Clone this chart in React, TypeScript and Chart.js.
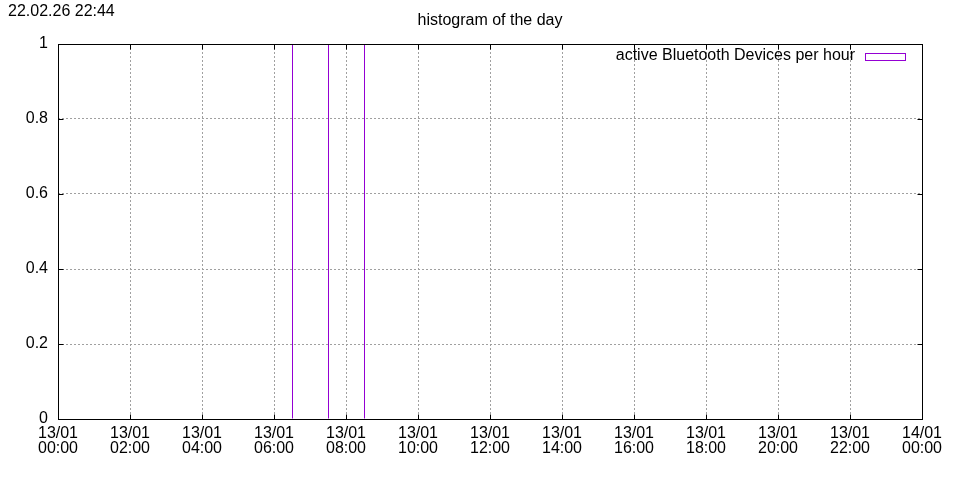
import React, { useEffect, useRef } from "react";
import { Chart, registerables } from "chart.js";

Chart.register(...registerables);

const timestamp = "22.02.26 22:44";
const chartTitle = "histogram of the day";
const seriesLabel = "active Bluetooth Devices per hour";
const hours = [0, 1, 2, 3, 4, 5, 6, 7, 8, 9, 10, 11, 12, 13, 14, 15, 16, 17, 18, 19, 20, 21, 22, 23];
const counts = [0, 0, 0, 0, 0, 0, 1, 1, 1, 0, 0, 0, 0, 0, 0, 0, 0, 0, 0, 0, 0, 0, 0, 0];
const tickDates = ["13/01", "13/01", "13/01", "13/01", "13/01", "13/01", "13/01", "13/01", "13/01", "13/01", "13/01", "13/01", "14/01"];
const tickTimes = ["00:00", "02:00", "04:00", "06:00", "08:00", "10:00", "12:00", "14:00", "16:00", "18:00", "20:00", "22:00", "00:00"];
const yTickLabels = ["0", "0.2", "0.4", "0.6", "0.8", "1"];

const FONT = "16px 'Liberation Sans', Arial, sans-serif";
const PURPLE = "#9400d3";

const framePlugin = {
  id: "gnuplotFrame",
  beforeDatasetsDraw(chart: any) {
    // align 1px bars to the pixel grid for crisp lines
    chart.ctx.save();
    chart.ctx.translate(0.5, 0);
  },
  afterDatasetsDraw(chart: any) {
    chart.ctx.restore();
    const ctx = chart.ctx as CanvasRenderingContext2D;
    const { left, right, top, bottom } = chart.chartArea;
    const L = Math.round(left) + 0.5;
    const R = Math.round(right) + 0.5;
    const T = Math.round(top) + 0.5;
    const B = Math.round(bottom) + 0.5;
    ctx.save();
    ctx.strokeStyle = "#000";
    ctx.lineWidth = 1;
    ctx.beginPath();
    const xs = chart.scales.x;
    const ys = chart.scales.y;
    const tl = 5;
    xs.ticks.forEach((t: any) => {
      const px = Math.round(xs.getPixelForValue(t.value)) + 0.5;
      ctx.moveTo(px, B);
      ctx.lineTo(px, B - tl);
      ctx.moveTo(px, T);
      ctx.lineTo(px, T + tl);
    });
    ys.ticks.forEach((t: any) => {
      const py = Math.round(ys.getPixelForValue(t.value)) + 0.5;
      ctx.moveTo(L, py);
      ctx.lineTo(L + tl, py);
      ctx.moveTo(R, py);
      ctx.lineTo(R - tl, py);
    });
    ctx.stroke();
    ctx.strokeRect(L, T, R - L, B - T);

    // legend
    ctx.font = FONT;
    ctx.fillStyle = "#000";
    ctx.textAlign = "right";
    ctx.textBaseline = "middle";
    ctx.fillText(chart.data.datasets[0].label, 855, 56);
    ctx.strokeStyle = PURPLE;
    ctx.strokeRect(865.5, 53.5, 40, 7);

    // texts
    ctx.textAlign = "left";
    ctx.fillText(timestamp, 8, 12);
    ctx.textAlign = "center";
    ctx.fillText(chartTitle, 490, 21);
    ctx.restore();
  },
};

export default function App() {
  const ref = useRef<HTMLCanvasElement | null>(null);
  useEffect(() => {
    if (!ref.current) return;
    const chart = new Chart(ref.current, {
      type: "bar",
      data: {
        datasets: [
          {
            label: seriesLabel,
            data: hours.map((h, i) => ({ x: h + 0.5, y: counts[i] })),
            backgroundColor: PURPLE,
            borderWidth: 0,
            barThickness: 1,
            inflateAmount: 0,
          } as any,
        ],
      },
      options: {
        animation: false,
        responsive: false,
        maintainAspectRatio: false,
        layout: { padding: { top: 44, right: 38, left: 0, bottom: 0 } },
        plugins: { legend: { display: false }, title: { display: false }, tooltip: { enabled: false } },
        scales: {
          x: {
            type: "linear",
            min: 0,
            max: 24,
            offset: false,
            afterFit(scale: any) {
              scale.height = 61;
            },
            afterBuildTicks(scale: any) {
              scale.ticks = tickTimes.map((_, i) => ({ value: i * 2 }));
            },
            grid: { color: "#a0a0a0", lineWidth: 1, drawTicks: false, offset: false },
            border: { display: false, dash: [2, 2] },
            ticks: {
              padding: 7,
              color: "#000",
              maxRotation: 0,
              autoSkip: false,
              font: { family: "'Liberation Sans', Arial, sans-serif", size: 16, lineHeight: 0.95 },
              callback: (_v: any, i: number) => [tickDates[i], tickTimes[i]],
            },
          },
          y: {
            min: 0,
            max: 1,
            afterFit(scale: any) {
              scale.width = 58;
            },
            afterBuildTicks(scale: any) {
              scale.ticks = yTickLabels.map((_, i) => ({ value: i * 0.2 }));
            },
            grid: { color: "#a0a0a0", lineWidth: 1, drawTicks: false, offset: false },
            border: { display: false, dash: [2, 2] },
            ticks: {
              padding: 10,
              color: "#000",
              font: { family: "'Liberation Sans', Arial, sans-serif", size: 16 },
              callback: (_v: any, i: number) => yTickLabels[i],
            },
          },
        },
      } as any,
      plugins: [framePlugin],
    });
    return () => chart.destroy();
  }, []);
  return (
    <div style={{ position: "fixed", left: 0, top: 0, width: 960, height: 480, background: "#fff" }}>
      <canvas ref={ref} width={960} height={480} style={{ width: 960, height: 480, display: "block" }} />
    </div>
  );
}
